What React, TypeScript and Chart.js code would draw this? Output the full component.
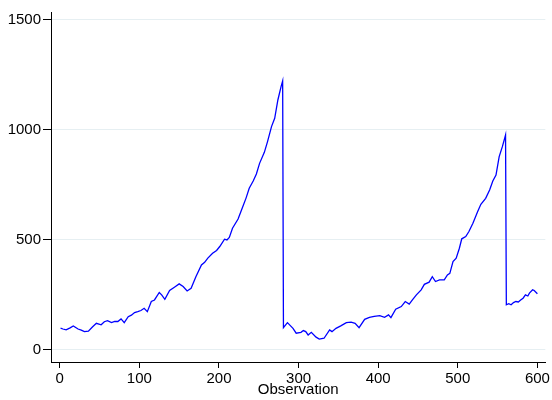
import React, { useEffect, useRef } from "react";
import { Chart, registerables } from "chart.js";

Chart.register(...registerables);

const observations = [
  1, 4, 8, 13, 17, 23, 27, 31, 36, 41, 46, 52, 56, 60, 65, 69, 73, 77, 81, 86, 90, 94, 98, 102, 106, 110, 115, 119,
  125, 128, 132, 138, 144, 150, 155, 160, 165, 171, 178, 182, 186, 192, 197, 201, 207, 210, 213, 217,
  224, 230, 234, 238, 243, 247, 251, 257, 261, 266, 270, 274, 278, 280, 281, 286, 293, 297, 303,
  306, 309, 312, 316, 322, 326, 332, 339, 342, 347, 353, 360, 366, 371, 376, 383, 389, 395,
  402, 408, 413, 416, 422, 429, 434, 439, 443, 448, 454, 458, 464, 468, 472, 477, 483,
  487, 490, 494, 498, 502, 505, 510, 514, 519, 525, 529, 535, 540, 544, 548, 552, 556,
  560, 561, 564, 567, 570, 573, 576, 579, 582, 585, 588, 590, 594, 596, 600,
];

const seriesValues = [
  99, 95, 91, 100, 109, 95, 90, 83, 85, 104, 121, 114, 128, 133, 124, 130, 129, 141, 124, 151, 158, 170, 174, 179, 189, 174, 220, 227,
  261, 250, 230, 270, 285, 300, 288, 268, 280, 333, 386, 398, 417, 439, 452, 470, 503, 500, 511, 553,
  595, 652, 690, 735, 768, 800, 848, 898, 947, 1015, 1053, 1136, 1197, 1223, 101, 124, 98, 76, 80,
  88, 83, 68, 80, 58, 49, 53, 91, 83, 98, 109, 124, 126, 121, 101, 139, 148, 152,
  156, 148, 159, 147, 185, 197, 220, 208, 227, 250, 273, 298, 308, 333, 311, 318, 318,
  341, 348, 402, 417, 462, 505, 515, 538, 576, 629, 662, 689, 727, 768, 795, 879, 924,
  977, 205, 210, 205, 215, 220, 218, 227, 235, 250, 245, 258, 273, 270, 255,
];

const xTicks = [0, 100, 200, 300, 400, 500, 600];
const yTicks = [0, 500, 1000, 1500];
const xTitle = "Observation";

export default function App() {
  const ref = useRef<HTMLCanvasElement | null>(null);

  useEffect(() => {
    document.body.style.margin = "0";
    const canvas = ref.current;
    if (!canvas) return;
    const fam = "'Liberation Sans', Arial, sans-serif";
    const chart = new Chart(canvas, {
      type: "scatter",
      data: {
        datasets: [
          {
            data: observations.map((x, i) => ({ x, y: seriesValues[i] })),
            showLine: true,
            borderColor: "#0000ff",
            borderWidth: 1.3,
            pointRadius: 0,
            tension: 0,
          },
        ],
      },
      options: {
        animation: false,
        responsive: false,
        maintainAspectRatio: false,
        layout: { padding: { top: 12, right: 6, left: 0, bottom: 0 } },
        plugins: { legend: { display: false }, tooltip: { enabled: false } },
        scales: {
          x: {
            type: "linear",
            min: -11,
            max: 610,
            afterBuildTicks: (s: any) => {
              s.ticks = xTicks.map((v) => ({ value: v }));
            },
            afterFit: (s: any) => {
              s.height = 38;
            },
            ticks: {
              font: { family: fam, size: 15 },
              color: "#000",
              padding: 2,
              maxRotation: 0,
              callback: (v: any) => String(v),
            },
            grid: { drawOnChartArea: false, tickLength: 6, tickColor: "#000", tickWidth: 1 },
            border: { color: "#000", width: 1 },
            title: {
              display: true,
              text: xTitle,
              font: { family: fam, size: 15 },
              color: "#000",
              padding: { top: 0, bottom: 1 },
            },
          },
          y: {
            type: "linear",
            min: -55,
            max: 1536,
            afterBuildTicks: (s: any) => {
              s.ticks = yTicks.map((v) => ({ value: v }));
            },
            afterFit: (s: any) => {
              s.width = 51;
            },
            ticks: {
              font: { family: fam, size: 15 },
              color: "#000",
              padding: 2,
              callback: (v: any) => String(v),
            },
            grid: { color: "#e6eff2", lineWidth: 1, tickLength: 8, tickColor: "#000", tickWidth: 1 },
            border: { color: "#000", width: 1 },
          },
        },
      },
    });
    return () => chart.destroy();
  }, []);

  return (
    <div style={{ position: "absolute", left: 0, top: 0, width: 552, height: 400, background: "#fff" }}>
      <canvas ref={ref} width={552} height={400} style={{ width: 552, height: 400 }} />
    </div>
  );
}
